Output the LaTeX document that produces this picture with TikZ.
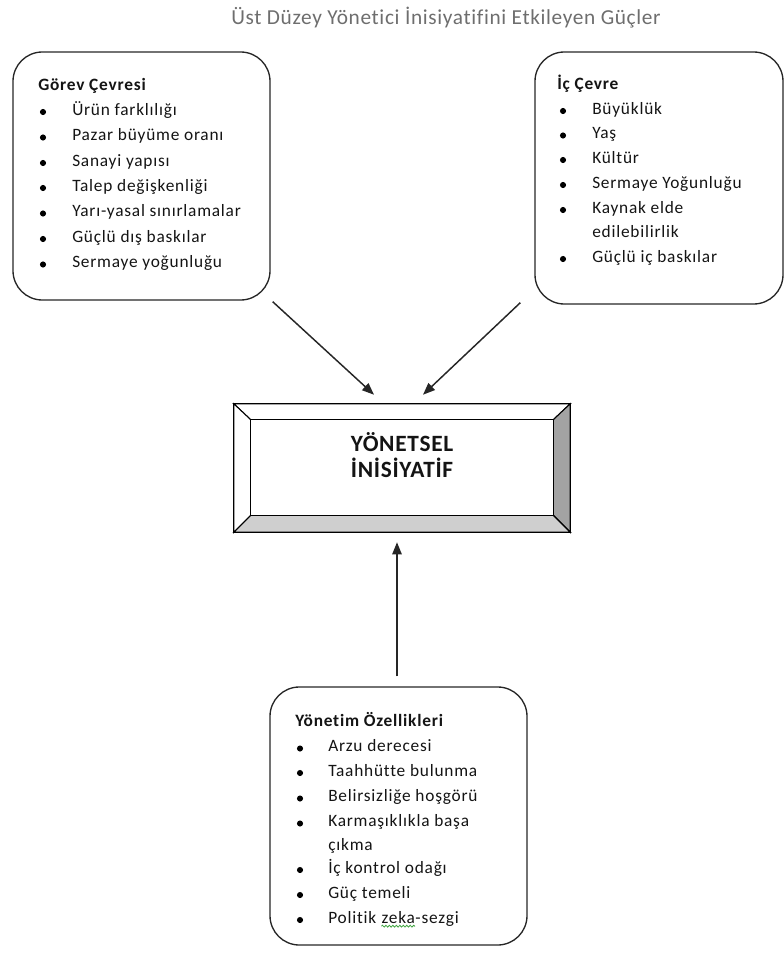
\documentclass[tikz,border=0pt]{standalone}
\usepackage{fontspec}
\setmainfont{Carlito}
\newfontfamily\bodyfont[LetterSpace=4.5,Ligatures=CommonOff]{Carlito}
\newfontfamily\titlefont[LetterSpace=3,Ligatures=CommonOff]{Carlito}
\newfontfamily\centrefont[LetterSpace=3,Ligatures=CommonOff]{Carlito}
\usetikzlibrary{calc,arrows.meta,decorations.pathmorphing}
\definecolor{titlegray}{HTML}{6E6E6E}
\definecolor{inkdark}{HTML}{141414}
\definecolor{bevelright}{HTML}{A3A3A3}
\definecolor{bevelbottom}{HTML}{CFCFCF}
\definecolor{squiggle}{HTML}{3FA33F}

\begin{document}
\begin{tikzpicture}[x=0.75pt,y=-0.75pt,
  panel/.style={draw=black!85, line width=1pt, rounded corners=22pt, inner sep=0pt},
  head/.style={anchor=mid west, font=\bodyfont\fontsize{13}{15}\selectfont\bfseries, text=inkdark, inner sep=0pt},
  item/.style={anchor=mid west, font=\bodyfont\fontsize{13}{15}\selectfont, text=inkdark, inner sep=0pt},
  dot/.style={circle, fill=black, inner sep=0pt, minimum size=4.6pt},
  bevel/.style={draw=black, line width=0.8pt, line join=miter},
  arr/.style={-{Triangle[length=9pt,width=7pt]}, line width=1.1pt, draw=black!85}
]
\useasboundingbox (0,0) rectangle (784,953);

% heading
\node[font=\titlefont\fontsize{16}{19}\selectfont, text=titlegray] (title) at (446,18)
  {Üst Düzey Yönetici İnisiyatifini Etkileyen Güçler};

% three rounded panels
\node[panel, minimum width=192.75pt, minimum height=186pt] (gorev) at (141.5,176) {};
\node[panel, minimum width=186pt, minimum height=189pt] (ic) at (659,178) {};
\node[panel, minimum width=192.75pt, minimum height=193.5pt] (yonetim) at (398.5,816) {};

% bevelled centre box
\node[minimum width=252pt, minimum height=96pt, inner sep=0pt] (yon) at (402,468) {};
\coordinate (iNW) at ($(yon.north west)+(17,16)$);
\coordinate (iNE) at ($(yon.north east)+(-17,16)$);
\coordinate (iSW) at ($(yon.south west)+(17,-17)$);
\coordinate (iSE) at ($(yon.south east)+(-17,-17)$);
\filldraw[bevel, fill=white] (yon.north west) -- (yon.north east) -- (iNE) -- (iNW) -- cycle;
\filldraw[bevel, fill=white] (yon.north west) -- (iNW) -- (iSW) -- (yon.south west) -- cycle;
\filldraw[bevel, fill=bevelright] (yon.north east) -- (yon.south east) -- (iSE) -- (iNE) -- cycle;
\filldraw[bevel, fill=bevelbottom] (yon.south west) -- (iSW) -- (iSE) -- (yon.south east) -- cycle;
\draw[bevel, fill=white] (iNW) rectangle (iSE);
\node[font=\centrefont\fontsize{17.5}{19.5}\selectfont\bfseries, text=inkdark, align=center] (yontext) at (402,455.5)
  {YÖNETSEL\\İNİSİYATİF};

% Görev Çevresi
\node[head] (gh) at (38,87) {Görev Çevresi};
\foreach \t/\y [count=\k] in {Ürün farklılığı/112, Pazar büyüme oranı/137.5, Sanayi yapısı/163,
    Talep değişkenliği/188, Yarı-yasal sınırlamalar/213.5, Güçlü dış baskılar/239,
    Sermaye yoğunluğu/264.5}{
  \node[dot] (gb\k) at (43,\y) {};
  \node[item] (gi\k) at (72,\y) {\t};
}

% İç Çevre
\node[head] (ih) at (557,86) {İç Çevre};
\foreach \t/\y [count=\k] in {Büyüklük/111, Yaş/135.5, Kültür/160, Sermaye Yoğunluğu/185,
    Kaynak elde/210, Güçlü iç baskılar/259}{
  \node[dot] (ib\k) at (563,\y) {};
  \node[item] (ii\k) at (592,\y) {\t};
}
\node[item] (iw5) at (592,234) {edilebilirlik};

% Yönetim Özellikleri
\node[head] (yh) at (295,723.5) {Yönetim Özellikleri};
\foreach \t/\y [count=\k] in {Arzu derecesi/748.5, Taahhütte bulunma/773, Belirsizliğe hoşgörü/798.5,
    Karmaşıklıkla başa/823.5, İç kontrol odağı/870, Güç temeli/895}{
  \node[dot] (yb\k) at (300,\y) {};
  \node[item] (yi\k) at (328,\y) {\t};
}
\node[item] (yw4) at (328,847) {çıkma};
\node[dot] (yb7) at (300,920) {};
\node[item] (yp1) at (328,920) {Politik};
\node[item, anchor=base west] (yp2) at ([xshift=3.6pt]yp1.base east) {zeka};
\node[item, anchor=base west] (yp3) at (yp2.base east) {-sezgi};
\draw[squiggle, line width=0.6pt, decorate, decoration={snake, amplitude=0.7pt, segment length=2.6pt}]
  ($(yp2.base west)+(0,3)$) -- ($(yp2.base east)+(0,3)$);

% arrows into the centre box
\draw[arr] ($(gorev.south east)+(2,1)$) -- ($(yon.north)+(-28,-9)$);
\draw[arr] ($(ic.south west)+(-14,-2)$) -- ($(yon.north)+(21,-9)$);
\draw[arr] ($(yonetim.north)+(-1.5,-10)$) -- ($(yon.south)+(-5,10)$);
\end{tikzpicture}
\end{document}
